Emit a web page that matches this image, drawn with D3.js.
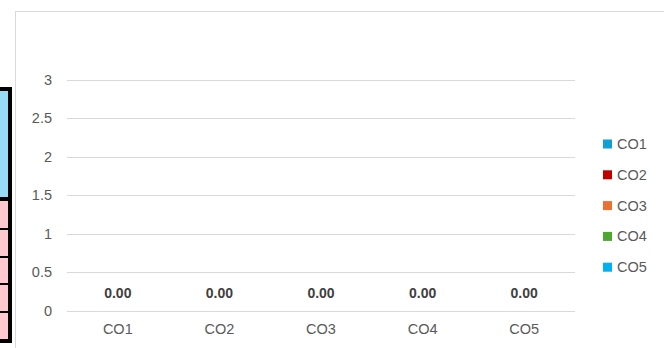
<!DOCTYPE html>
<html>
<head>
  <meta charset="utf-8">
  <title>CO chart</title>
  <style>
    body { margin: 0; background: #fff; }
    svg { display: block; font-family: "Liberation Sans", Arial, sans-serif; }
  </style>
</head>
<body>
  <div class="area"></div>

  <script src="https://cdn.jsdelivr.net/npm/d3@7/dist/d3.min.js"></script>
  <script type="text/javascript">

  var categories = ['CO1', 'CO2', 'CO3', 'CO4', 'CO5'];
  var values     = [0, 0, 0, 0, 0];
  var colors     = ['#0F9ED5', '#C00000', '#E97132', '#4EA72E', '#00B0F0'];
  var yTicks     = [0, 0.5, 1, 1.5, 2, 2.5, 3];

  var w = 664, h = 348;

  var svg = d3.select('.area')
    .append('svg')
    .attr('width', w)
    .attr('height', h);

  svg.append('rect').attr('width', w).attr('height', h).attr('fill', '#fff');

  // bit of the spreadsheet showing at the left edge
  var sheet = svg.append('g');
  sheet.append('rect').attr('x', -10).attr('y', 87).attr('width', 22).attr('height', 256)
    .attr('fill', '#000');
  sheet.append('rect').attr('x', -10).attr('y', 91).attr('width', 18).attr('height', 106)
    .attr('fill', '#97DBF7');
  var rows = [[201, 228], [230, 256], [258, 283], [285, 311], [313, 339]];
  rows.forEach(function(r){
    sheet.append('rect').attr('x', -10).attr('y', r[0]).attr('width', 18).attr('height', r[1] - r[0])
      .attr('fill', '#FFC9CF');
  });

  // chart frame
  svg.append('rect')
    .attr('x', 15.5).attr('y', 11.5)
    .attr('width', 700).attr('height', 400)
    .attr('fill', '#fff')
    .attr('stroke', '#d9d9d9');

  var x = d3.scaleBand().domain(categories).range([67, 575]);
  var y = d3.scaleLinear().domain([0, 3]).range([310.5, 79.5]);

  // gridlines
  svg.append('g').selectAll('line')
    .data(yTicks)
    .enter().append('line')
    .attr('x1', 67).attr('x2', 575)
    .attr('y1', function(d){ return Math.round(y(d)) + 0.5; })
    .attr('y2', function(d){ return Math.round(y(d)) + 0.5; })
    .attr('stroke', '#d9d9d9')
    .attr('stroke-width', 1);

  // y axis labels
  var yAxis = d3.axisLeft(y).tickValues(yTicks).tickSize(0).tickPadding(0)
    .tickFormat(function(d){ return d3.format('')(d); });
  var gy = svg.append('g').attr('transform', 'translate(52,0)').call(yAxis);
  gy.select('.domain').remove();
  gy.selectAll('text').attr('fill', '#595959').style('font-size', '14.5px')
    .style('font-family', '"Liberation Sans", Arial, sans-serif');

  // x axis labels
  var xAxis = d3.axisBottom(x).tickSize(0).tickPadding(0);
  var gx = svg.append('g').attr('transform', 'translate(0,324)').call(xAxis);
  gx.select('.domain').remove();
  gx.selectAll('text').attr('fill', '#595959').style('font-size', '14.5px')
    .style('font-family', '"Liberation Sans", Arial, sans-serif');

  // bars (all zero)
  svg.append('g').selectAll('rect')
    .data(values)
    .enter().append('rect')
    .attr('x', function(d, i){ return x(categories[i]) + x.bandwidth() * 0.2; })
    .attr('width', x.bandwidth() * 0.6)
    .attr('y', function(d){ return y(d); })
    .attr('height', function(d){ return y(0) - y(d); })
    .attr('fill', function(d, i){ return colors[i]; });

  // data labels
  svg.append('g').selectAll('text')
    .data(values)
    .enter().append('text')
    .attr('x', function(d, i){ return x(categories[i]) + x.bandwidth() / 2; })
    .attr('y', function(d){ return y(d) - 13; })
    .attr('text-anchor', 'middle')
    .attr('fill', '#404040')
    .style('font-size', '14px')
    .style('font-weight', 'bold')
    .text(function(d){ return d3.format('.2f')(d); });

  // legend
  var legend = svg.append('g').selectAll('g')
    .data(categories)
    .enter().append('g')
    .attr('transform', function(d, i){ return 'translate(603,' + (144 + i * 30.8) + ')'; });
  legend.append('rect')
    .attr('x', 0).attr('y', -4.5).attr('width', 9).attr('height', 9)
    .attr('fill', function(d, i){ return colors[i]; });
  legend.append('text')
    .attr('x', 14).attr('y', 5)
    .attr('fill', '#595959')
    .style('font-size', '14.5px')
    .text(function(d){ return d; });

  </script>
</body>
</html>
